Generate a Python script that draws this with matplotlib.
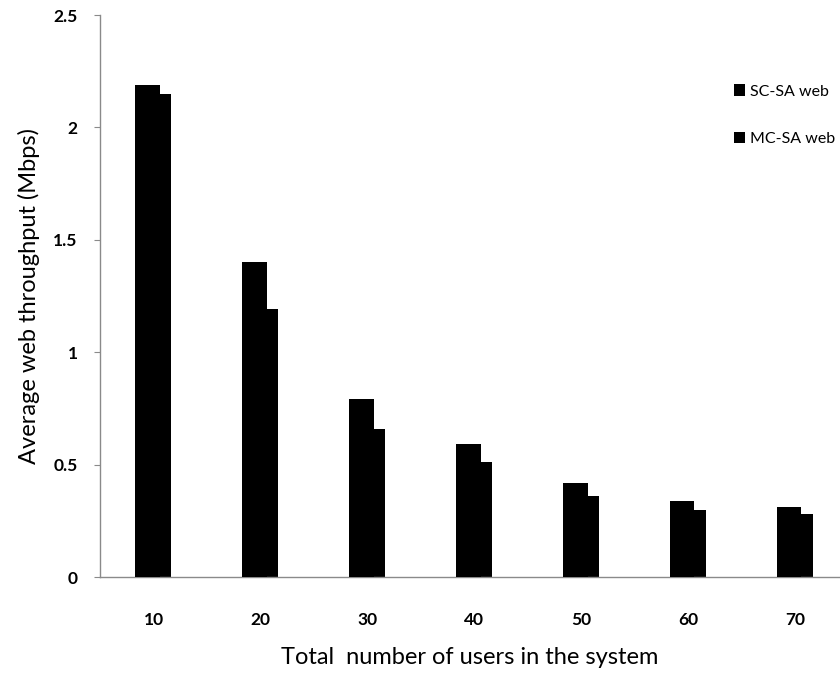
import matplotlib
matplotlib.use('Agg')
import matplotlib.pyplot as plt
import numpy as np

# values
users = ['10', '20', '30', '40', '50', '60', '70']
sc_sa = [2.19, 1.40, 0.79, 0.59, 0.42, 0.34, 0.31]
mc_sa = [2.15, 1.19, 0.66, 0.51, 0.36, 0.30, 0.28]

plt.rcParams['font.family'] = ['Lato', 'DejaVu Sans']

fig = plt.figure(figsize=(8.4, 6.77), dpi=100)
ax = fig.add_axes([100/840, 100/677, 739/840, 562/677])

x = np.arange(len(users))
w = 0.227
off = 0.055
ax.bar(x + off, mc_sa, w, color='black', label='MC-SA web', zorder=2)
ax.bar(x - off, sc_sa, w, color='black', label='SC-SA web', zorder=3)

ax.set_xlim(-0.5, 6.41)
ax.set_ylim(0, 2.5)
ax.set_yticks([0, 0.5, 1, 1.5, 2, 2.5])
ax.set_yticklabels(['0', '0.5', '1', '1.5', '2', '2.5'])
ax.set_xticks(x)
ax.set_xticklabels(users)

for s in ['top', 'right']:
    ax.spines[s].set_visible(False)
for s in ['left', 'bottom']:
    ax.spines[s].set_color('#8a8a8a')
    ax.spines[s].set_linewidth(1.0)
ax.tick_params(axis='y', length=4, color='#8a8a8a', labelsize=12.5, pad=12)
ax.tick_params(axis='x', length=0, labelsize=12.5, pad=25)
for t in ax.get_xticklabels() + ax.get_yticklabels():
    t.set_fontweight('bold')

ax.set_ylabel('Average web throughput (Mbps)', fontsize=17, labelpad=10)
ax.set_xlabel('Total  number of users in the system', fontsize=17, labelpad=14)

h, l = ax.get_legend_handles_labels()
ax.legend(h[::-1], l[::-1], loc='upper left', bbox_to_anchor=(0.838, 0.902),
          frameon=False, fontsize=11.5, handlelength=0.7, handleheight=0.7,
          handletextpad=0.3, labelspacing=2.1)

fig.savefig('out.png', dpi=100)
